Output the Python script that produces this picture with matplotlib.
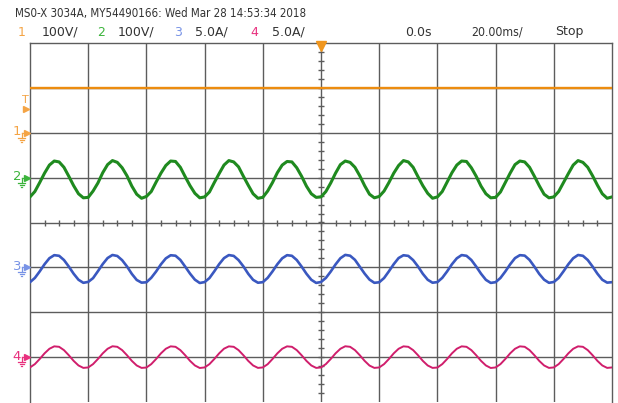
import numpy as np
import matplotlib.pyplot as plt

plt.rcParams['font.family'] = ['DejaVu Sans']

# time base: 10 divisions x 20 ms, samples every 20/12 ms
time_ms = np.arange(-100, 100.01, 20 / 12)

# channel 1 (DC), read at each division
ch1_time = [-100, -80, -60, -40, -20, 0, 20, 40, 60, 80, 100]
ch1_volts = [100, 100, 100, 100, 100, 100, 100, 100, 100, 100, 100]

# channel 2, volts
ch2_volts = [
    -43, -31, -11, 10, 28, 37, 35, 23, 3, -18, -36, -45,
    -44, -30, -12, 11, 29, 38, 34, 22, 4, -19, -37, -46,
    -42, -31, -10, 10, 27, 37, 36, 23, 2, -18, -35, -45,
    -43, -32, -11, 9, 28, 38, 35, 24, 3, -17, -36, -46,
    -44, -30, -11, 11, 28, 36, 35, 22, 3, -19, -36, -44,
    -43, -31, -12, 10, 29, 37, 34, 23, 4, -18, -37, -45,
    -42, -30, -11, 10, 27, 38, 35, 23, 2, -18, -35, -46,
    -43, -31, -10, 11, 28, 37, 36, 22, 3, -19, -36, -45,
    -44, -32, -11, 10, 29, 37, 35, 23, 3, -18, -37, -45,
    -43, -31, -11, 9, 28, 38, 34, 23, 4, -17, -36, -46,
    -43,
]

# channel 3, amps
ch3_amps = [
    -1.65, -1.18, -0.45, 0.35, 1.02, 1.36, 1.29, 0.82, 0.09, -0.71, -1.38, -1.72,
    -1.62, -1.20, -0.43, 0.37, 1.04, 1.38, 1.27, 0.80, 0.10, -0.73, -1.40, -1.70,
    -1.66, -1.16, -0.46, 0.34, 1.00, 1.35, 1.30, 0.83, 0.08, -0.70, -1.37, -1.74,
    -1.64, -1.19, -0.44, 0.36, 1.03, 1.37, 1.28, 0.81, 0.11, -0.72, -1.39, -1.71,
    -1.65, -1.17, -0.45, 0.35, 1.01, 1.36, 1.29, 0.82, 0.09, -0.71, -1.38, -1.73,
    -1.63, -1.18, -0.47, 0.33, 1.02, 1.39, 1.30, 0.84, 0.07, -0.70, -1.36, -1.72,
    -1.66, -1.19, -0.44, 0.36, 1.04, 1.35, 1.28, 0.81, 0.10, -0.72, -1.38, -1.71,
    -1.64, -1.17, -0.45, 0.35, 1.01, 1.37, 1.29, 0.82, 0.09, -0.71, -1.39, -1.73,
    -1.65, -1.18, -0.46, 0.34, 1.03, 1.36, 1.31, 0.83, 0.08, -0.73, -1.37, -1.72,
    -1.63, -1.18, -0.44, 0.35, 1.02, 1.38, 1.29, 0.82, 0.09, -0.71, -1.38, -1.70,
    -1.65,
]

# channel 4, amps
ch4_amps = [
    -1.15, -0.78, -0.21, 0.42, 0.93, 1.20, 1.15, 0.78, 0.21, -0.42, -0.93, -1.20,
    -1.15, -0.78, -0.21, 0.42, 0.93, 1.21, 1.15, 0.78, 0.21, -0.42, -0.93, -1.20,
    -1.16, -0.78, -0.21, 0.42, 0.93, 1.20, 1.15, 0.78, 0.21, -0.42, -0.93, -1.21,
    -1.15, -0.78, -0.21, 0.42, 0.94, 1.20, 1.15, 0.78, 0.21, -0.42, -0.93, -1.20,
    -1.15, -0.79, -0.21, 0.42, 0.93, 1.20, 1.15, 0.78, 0.21, -0.42, -0.93, -1.20,
    -1.15, -0.78, -0.21, 0.42, 0.93, 1.21, 1.15, 0.78, 0.21, -0.42, -0.94, -1.20,
    -1.15, -0.78, -0.21, 0.42, 0.93, 1.20, 1.15, 0.78, 0.21, -0.42, -0.93, -1.20,
    -1.16, -0.78, -0.21, 0.42, 0.93, 1.20, 1.15, 0.78, 0.21, -0.42, -0.93, -1.21,
    -1.15, -0.78, -0.21, 0.42, 0.93, 1.20, 1.15, 0.78, 0.21, -0.42, -0.93, -1.20,
    -1.15, -0.78, -0.21, 0.42, 0.93, 1.20, 1.15, 0.78, 0.21, -0.42, -0.93, -1.20,
    -1.15,
]

# per channel: scale (units/div), ground position (div), colours
channels = ['1', '2', '3', '4']
scales = [100, 100, 5.0, 5.0]
scale_labels = ['100V/', '100V/', '5.0A/', '5.0A/']
grounds = [2, 1, -1, -3]
trace_colors = ['#ec8c10', '#1f8a1f', '#3a58c0', '#d01e6c']
label_colors = ['#f4a445', '#3cb43c', '#7893e6', '#e8307e']
trigger_level = 52  # volts, channel 1

grid_color = '#5c5c5c'

fig = plt.figure(figsize=(6.18, 4.03), dpi=100)
W, H = 618, 403
left_px, right_px, top_px, bottom_px = 30, 612, 43, 402
ax = fig.add_axes([left_px / W, 1 - bottom_px / H,
                   (right_px - left_px) / W, (bottom_px - top_px) / H])
ax.set_xlim(-100, 100)
ax.set_ylim(-4, 4)
ax.set_xticks([])
ax.set_yticks([])
for side, sp in ax.spines.items():
    sp.set_color(grid_color)
    sp.set_linewidth(1.0)
ax.spines['bottom'].set_visible(False)

for x in range(-80, 100, 20):
    ax.axvline(x, color=grid_color, lw=1.0, zorder=1)
for y in range(-3, 4):
    ax.axhline(y, color=grid_color, lw=1.0, zorder=1)

# minor ticks on centre lines
ax.plot(np.arange(-95, 100, 5), np.zeros(39), ls='none', marker='|',
        ms=4.5, mew=1.0, color=grid_color, zorder=1)
ax.plot(np.zeros(39), np.arange(-3.8, 3.81, 0.2), ls='none', marker='_',
        ms=4.5, mew=1.0, color=grid_color, zorder=1)

# traces, converted to divisions
ax.plot(ch1_time, np.array(ch1_volts) / scales[0] + grounds[0],
        color=trace_colors[0], lw=1.7, zorder=3)
ax.plot(time_ms, np.array(ch2_volts) / scales[1] + grounds[1],
        color=trace_colors[1], lw=2.2, zorder=3)
ax.plot(time_ms, np.array(ch3_amps) / scales[2] + grounds[2],
        color=trace_colors[2], lw=1.9, zorder=3)
ax.plot(time_ms, np.array(ch4_amps) / scales[3] + grounds[3],
        color=trace_colors[3], lw=1.4, zorder=3)

# overlay in pixel coordinates for annotations
ov = fig.add_axes([0, 0, 1, 1], facecolor='none')
ov.set_xlim(0, W)
ov.set_ylim(H, 0)
ov.axis('off')
div_px = (bottom_px - top_px) / 8


def div_to_px(d):
    return top_px + (4 - d) * div_px


text_color = '#333333'
ov.text(15, 13, 'MS0-X 3034A, MY54490166: Wed Mar 28 14:53:34 2018',
        fontsize=8.3, fontstretch='condensed', color=text_color,
        va='center', ha='left')

num_x = [18, 97, 174, 250]
lab_x = [42, 118, 195, 272]
for i in range(4):
    ov.text(num_x[i], 32, channels[i], fontsize=9, color=label_colors[i],
            va='center', ha='left')
    ov.text(lab_x[i], 32, scale_labels[i], fontsize=9,
            color=text_color, va='center', ha='left')
ov.text(405, 32, '0.0s', fontsize=9, color=text_color,
        va='center', ha='left')
ov.text(471, 32, '20.00ms/', fontsize=8.8, fontstretch='condensed',
        color=text_color, va='center', ha='left')
ov.text(555, 32, 'Stop', fontsize=9, color=text_color,
        va='center', ha='left')

# trigger position marker at top
ov.plot([left_px + (right_px - left_px) / 2], [top_px + 3], marker='v',
        ms=7, color='#f0961e', mec='#f0961e')

# trigger level marker
ty = div_to_px(trigger_level / scales[0] + grounds[0])
ov.text(25, ty - 9, 'T', fontsize=8, color=label_colors[0], va='center', ha='center')
ov.plot([26], [ty], marker='>', ms=5, color=label_colors[0], mec=label_colors[0])

# ground markers
for i in range(4):
    gy = div_to_px(grounds[i])
    c = label_colors[i]
    ov.text(17, gy - 1, channels[i], fontsize=9.5, color=c, va='center', ha='center')
    ov.plot([21.5, 26], [gy, gy], color=c, lw=0.9)
    ov.plot([21.5, 21.5], [gy, gy + 5], color=c, lw=0.9)
    ov.plot([18, 25], [gy + 5, gy + 5], color=c, lw=0.9)
    ov.plot([19.5, 23.5], [gy + 7, gy + 7], color=c, lw=0.9)
    ov.plot([21, 22], [gy + 9, gy + 9], color=c, lw=0.9)
    ov.plot([27], [gy], marker='>', ms=4.5, color=c, mec=c)

fig.savefig('out.png', dpi=100)
